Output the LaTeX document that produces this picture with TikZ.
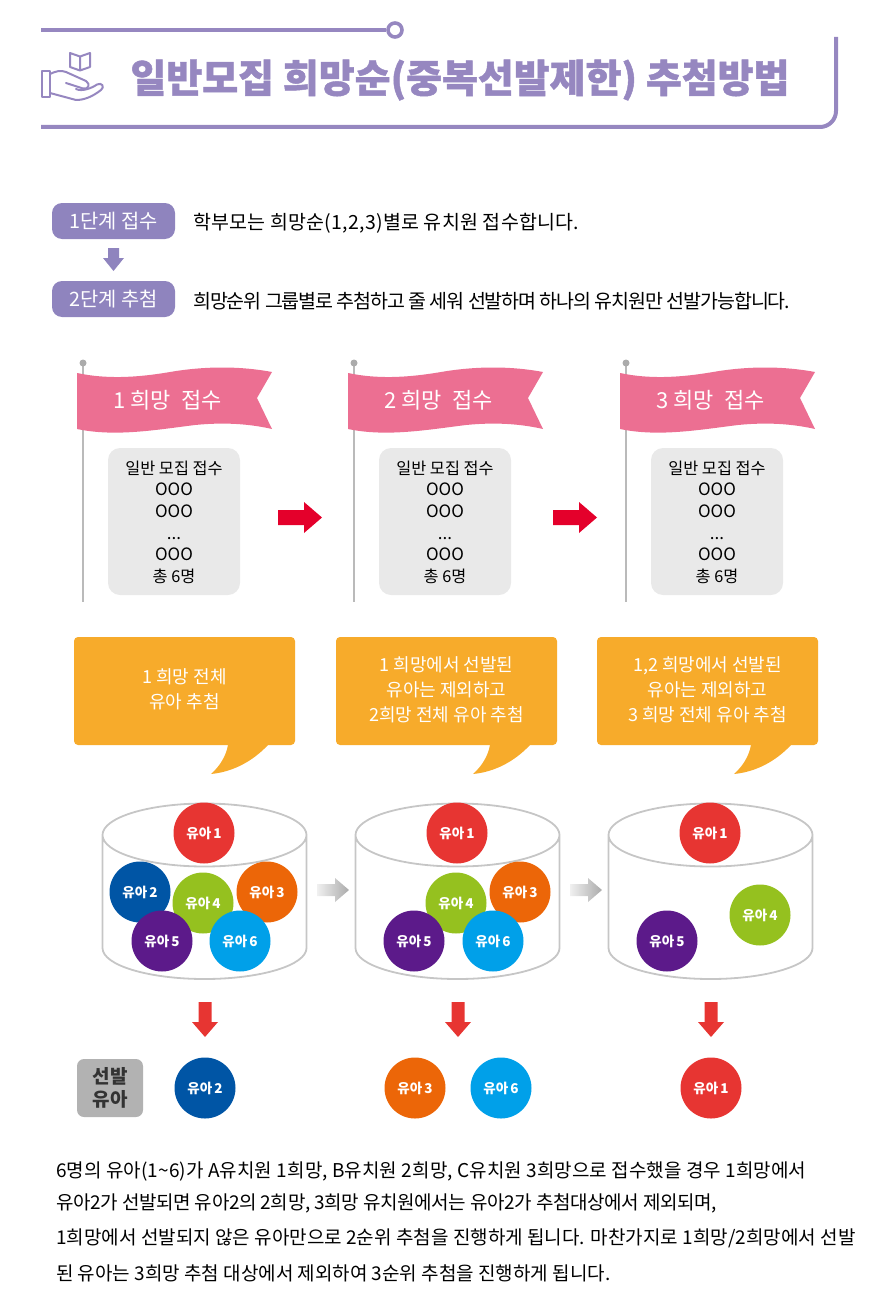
\documentclass[tikz,border=0pt]{standalone}
\usepackage{fontspec}
\setmainfont{Noto Sans CJK KR}
\usetikzlibrary{calc}
\definecolor{purp}{HTML}{9687C0}
\definecolor{pillc}{HTML}{8F84BE}
\definecolor{flagc}{HTML}{EC6F92}
\definecolor{boxg}{HTML}{E9E9E9}
\definecolor{redar}{HTML}{E4002B}
\definecolor{orangeb}{HTML}{F7AB2B}
\definecolor{kred}{HTML}{E73532}
\definecolor{kblue}{HTML}{0055A5}
\definecolor{korange}{HTML}{EC6608}
\definecolor{kgreen}{HTML}{95C11F}
\definecolor{kpurple}{HTML}{5C1A8A}
\definecolor{kcyan}{HTML}{00A0E9}
\definecolor{rim}{HTML}{C6C6C6}
\newcommand\fpx[2]{\fontsize{#1}{#2}\selectfont}
\newcommand\lsp[1]{\addfontfeature{LetterSpace=#1}}
\tikzset{
  pill/.style={fill=pillc,rounded corners=10,minimum width=123,minimum height=36,inner sep=0,text=white,font=\fpx{19.8}{24}},
  steptext/.style={anchor=west,inner sep=0,text=black,font=\fpx{19.5}{24}},
  flagtext/.style={text=white,inner sep=0,font=\fpx{22}{26}},
  listbox/.style={fill=boxg,rounded corners=12,minimum width=132,minimum height=147,inner sep=0,align=center,text=black,font=\fpx{16.3}{21.6}},
  calltext/.style={text=white,inner sep=0,align=center,font=\fpx{18}{25}},
  kid/.style={circle,minimum size=61,inner sep=0,text=white,font=\bfseries\fpx{13.5}{15}},
  bodytext/.style={anchor=west,inner sep=0,text=black,font=\fpx{19}{24}},
  rimline/.style={draw=rim,line width=1.8},
  purpline/.style={draw=purp,line width=4},
  iconline/.style={draw=purp,line width=2,line join=round,line cap=round}
}
\newcommand\flagbody[3]{%
  \begin{scope}[xshift=#2]
    \draw[line width=2.5,draw=black!27] (83,363) -- (83,602);
    \fill[black!33] (83,363) circle (3.5);
    \fill[flagc] (77,373) .. controls (105,379) and (135,378) .. (170,372)
      .. controls (205,366) and (240,366) .. (272,372) -- (257,398) -- (272,429)
      .. controls (250,424) and (225,422) .. (195,425)
      .. controls (155,430) and (115,437) .. (77,429) -- cycle;
    \node[flagtext] (#1flag) at (167.5,400.5) {#3 희망\hspace{5pt} 접수};
    \node[listbox] (#1box) at (174,521.5) {\rule{0pt}{15pt}일반 모집 접수\\{\fpx{17}{21.6}OOO}\\{\fpx{17}{21.6}OOO}\\{\fpx{17}{21.6}...}\\{\fpx{17}{21.6}OOO}\\총 6명};
  \end{scope}}
\newcommand\calloutshape[1]{%
  \fill[orangeb,xshift=#1] (78,637) -- (291,637) arc (-90:0:4) -- (295,741) arc (0:90:4)
      -- (268,745) .. controls (252,762) and (232,772) .. (211,774)
      .. controls (220,766) and (226,756) .. (228,745) -- (78,745) arc (90:180:4) -- (74,641) arc (180:270:4) -- cycle;}
\newcommand\bucket[1]{%
  \begin{scope}[xshift=#1]
    \draw[rimline] (102.5,835) arc (180:0:102 and 31.5) arc (0:-180:102 and 31.5) -- (102.5,948)
      arc (180:0:102 and 31) -- (306.5,835);
  \end{scope}}
\newcommand\kidn[5]{\node[kid,fill=#4] (#1) at (#2,#3) {유아\,#5};}
\newcommand\grayarrow[1]{%
  \shade[left color=black!6,right color=black!33,xshift=#1]
    (317,884) -- (335,884) -- (335,878) -- (349,890) -- (335,902) -- (335,896) -- (317,896) -- cycle;}
\newcommand\redown[1]{%
  \fill[kred,xshift=#1] (198.5,1002) -- (211.5,1002) -- (211.5,1022) -- (218,1022) -- (205,1037) -- (192,1022) -- (198.5,1022) -- cycle;}
\newcommand\redarrow[1]{%
  \fill[redar,xshift=#1] (278,510) -- (304,510) -- (304,502) -- (322,517.5) -- (304,533) -- (304,525) -- (278,525) -- cycle;}
\begin{document}
\begin{tikzpicture}[x=1pt,y=-1pt]
\useasboundingbox (0,0) rectangle (885,1300);
% header
\coordinate (hstart) at (41,30);
\coordinate (hbl) at (41,127);
\coordinate (htr) at (836,37);
\node[circle,draw=purp,fill=white,line width=3.6,minimum size=14,inner sep=0] (hdot) at (395,30) {};
\draw[purpline] (hstart) -- (hdot);
\draw[purpline] (hbl) -- (820,127) arc (90:0:16) -- (htr);
% icon
\draw[iconline] (70,53) -- (80,56.5) -- (90,53) -- (90,67) -- (80,70.5) -- (70,67) -- cycle (80,56.5) -- (80,70.5);
\draw[iconline] (42,71) -- (50,71) -- (50,97) -- (42,97) -- cycle;
\draw[iconline] (50,74) .. controls (56,71) and (61,70) .. (66,72) -- (86,81) .. controls (91,84) and (88,90) .. (83,88.5) -- (66,83);
\draw[iconline] (76,89) .. controls (82,92) and (92,88) .. (97,84.5) .. controls (102,82) and (105,87) .. (101,90)
  .. controls (92,97) and (84,100) .. (76,100) -- (50,93);
\node[inner sep=0,text=purp,font=\bfseries\fpx{39}{44}\addfontfeature{FakeBold=1.2}] (title) at (460,80) {일반모집 희망순(중복선발제한) 추첨방법};
% steps
\node[pill] (s1) at (113.5,221) {1단계 접수};
\node[pill] (s2) at (113.5,299) {2단계 추첨};
\fill[pillc] (108,248) -- (119,248) -- (119,258) -- (124,258) -- (113.5,271) -- (103,258) -- (108,258) -- cycle;
\node[steptext] (t1) at (193,223) {\lsp{1.3}학부모는 희망순(1,2,3)별로 유치원 접수합니다.};
\node[steptext] (t2) at (193,301) {\lsp{-5.5}희망순위 그룹별로 추첨하고 줄 세워 선발하며 하나의 유치원만 선발가능합니다.};
% flags
\flagbody{fa}{0}{1}
\flagbody{fb}{271}{2}
\flagbody{fc}{543}{3}
\redarrow{0}
\redarrow{275}
% callouts
\calloutshape{0}
\calloutshape{262}
\calloutshape{523}
\node[calltext] (cat) at (184.5,689) {1 희망 전체\\유아 추첨};
\node[calltext] (cbt) at (446.5,689.5) {1 희망에서 선발된\\유아는 제외하고\\2희망 전체 유아 추첨};
\node[calltext] (cct) at (707.5,689.5) {1,2 희망에서 선발된\\유아는 제외하고\\3 희망 전체 유아 추첨};
% buckets
\bucket{0}
\bucket{253}
\bucket{506}
\grayarrow{0}
\grayarrow{253}
\kidn{a1}{204}{833}{kred}{1}
\kidn{a2}{140}{892}{kblue}{2}
\kidn{a4}{203}{903}{kgreen}{4}
\kidn{a3}{267}{892}{korange}{3}
\kidn{a5}{162}{941}{kpurple}{5}
\kidn{a6}{240}{941}{kcyan}{6}
\kidn{b1}{457}{833}{kred}{1}
\kidn{b4}{456}{903}{kgreen}{4}
\kidn{b3}{520}{892}{korange}{3}
\kidn{b5}{414}{941}{kpurple}{5}
\kidn{b6}{493}{941}{kcyan}{6}
\kidn{c1}{710}{833}{kred}{1}
\kidn{c4}{760}{915}{kgreen}{4}
\kidn{c5}{667}{941}{kpurple}{5}
\redown{0}
\redown{253}
\redown{506}
% selected
\node[fill=black!30,rounded corners=7,minimum width=66,minimum height=58,inner sep=0,align=center,text=black!80,font=\bfseries\fpx{19}{23}] (sel) at (110,1088) {선발\\유아};
\kidn{r2}{205}{1088}{kblue}{2}
\kidn{r3}{415}{1088}{korange}{3}
\kidn{r6}{501}{1088}{kcyan}{6}
\kidn{r1}{711}{1088}{kred}{1}
% body
\node[bodytext] (b1) at (56,1171.5) {\lsp{0.5}6명의 유아(1\textasciitilde 6)가 A유치원 1희망, B유치원 2희망, C유치원 3희망으로 접수했을 경우 1희망에서};
\node[bodytext] (b2) at (56,1203.5) {\lsp{-1.8}유아2가 선발되면 유아2의 2희망, 3희망 유치원에서는 유아2가 추첨대상에서 제외되며,};
\node[bodytext] (b3) at (56,1238) {\lsp{0.15}1희망에서 선발되지 않은 유아만으로 2순위 추첨을 진행하게 됩니다. 마찬가지로 1희망/2희망에서 선발};
\node[bodytext] (b4) at (56,1273) {된 유아는 3희망 추첨 대상에서 제외하여 3순위 추첨을 진행하게 됩니다.};
\end{tikzpicture}
\end{document}
